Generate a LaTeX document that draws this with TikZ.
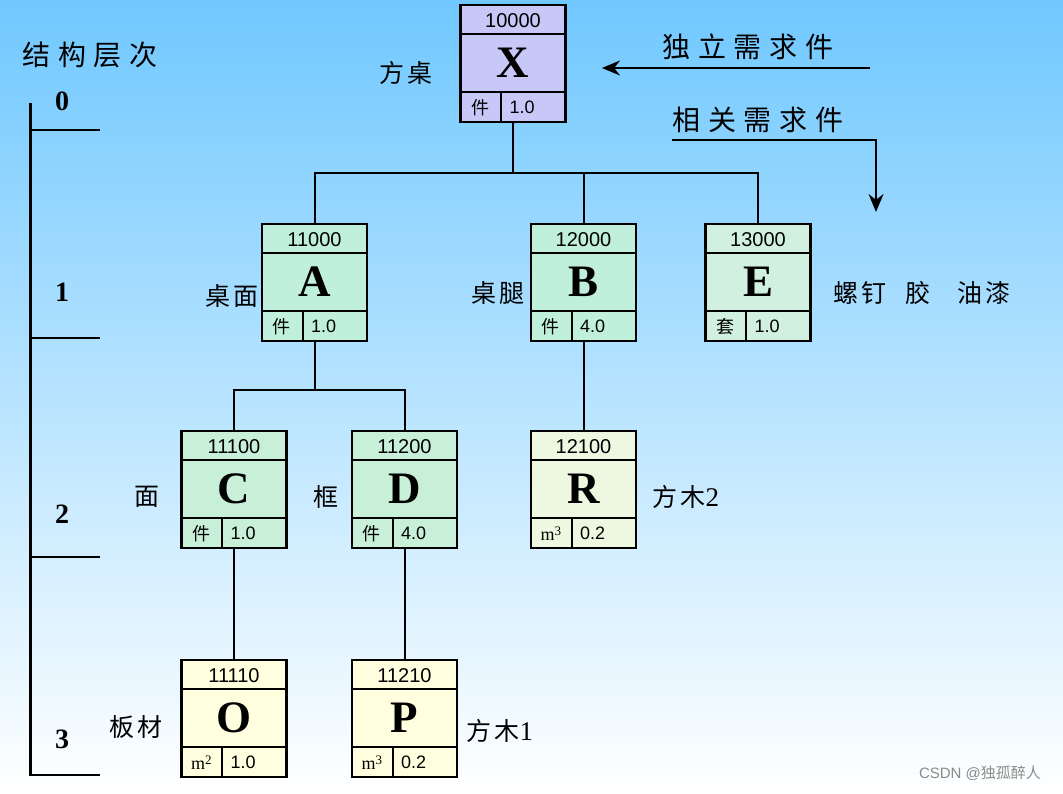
\documentclass[tikz,border=0pt]{standalone}
\usepackage{fontspec}
\setmainfont{Liberation Serif}
\newfontfamily\sansnum{Liberation Sans}
\newfontfamily\cjk{Noto Sans CJK SC}
\newfontfamily\cjkwide{Noto Sans CJK SC}[LetterSpace=28]
\newfontfamily\cjkmid{Noto Sans CJK SC}[LetterSpace=14]
\usetikzlibrary{calc,arrows.meta}
\definecolor{bgtop}{HTML}{70C8FF}
\definecolor{bgmid}{HTML}{C4E6FC}
\definecolor{fx}{HTML}{C8C8F8}
\definecolor{fa}{HTML}{C0F0DC}
\definecolor{fe}{HTML}{D2F0E0}
\definecolor{fc}{HTML}{C8F0D8}
\definecolor{fr}{HTML}{EEF8E0}
\definecolor{fo}{HTML}{FFFFE0}
\definecolor{wm}{HTML}{8A8A8A}
\tikzset{
  pbox/.style={draw, line width=2.4pt, minimum width=105pt, minimum height=117pt, inner sep=0pt},
  rule/.style={line width=2.2pt},
  conn/.style={line width=2pt},
  hdr/.style={font=\sansnum\fontsize{20}{20}\selectfont, inner sep=0pt},
  bigl/.style={font=\bfseries\fontsize{45}{45}\selectfont, inner sep=0pt},
  cell/.style={font=\sansnum\fontsize{18}{18}\selectfont, inner sep=0pt},
  ucell/.style={font=\cjk\fontsize{18}{18}\selectfont, inner sep=0pt},
  lbl/.style={font=\cjkmid\fontsize{25}{25}\selectfont, inner sep=0pt},
  ttl/.style={font=\cjkwide\fontsize{28}{28}\selectfont, inner sep=0pt},
  lvl/.style={font=\bfseries\fontsize{28}{28}\selectfont, inner sep=0pt},
  tip/.style={-{Stealth[length=18pt,width=15pt]}}
}
\newcommand\partbox[8]{%
  \node[pbox, fill=#4] (#1) at (#2,#3) {};
  \draw[rule] ($(#1.north west)+(0,30)$) -- ($(#1.north east)+(0,30)$);
  \draw[rule] ($(#1.south west)+(0,-31)$) -- ($(#1.south east)+(0,-31)$);
  \draw[rule] ($(#1.south west)+(42,-31)$) -- ($(#1.south west)+(42,0)$);
  \node[hdr] at ($(#1.north)+(0,17)$) {#5};
  \node[bigl] at ($(#1.center)+(0,-1)$) {#6};
  \node[ucell] at ($(#1.south west)+(21,-15.5)$) {#7};
  \node[cell, anchor=west] at ($(#1.south west)+(50,-15.5)$) {#8};
}
\newcommand\cubic[1]{{\fontsize{18}{18}\selectfont\rmfamily m\raisebox{5pt}{\fontsize{13}{13}\selectfont #1}}}
\begin{document}
\begin{tikzpicture}[x=1pt,y=-1pt]
\useasboundingbox (0,0) rectangle (1063,793);
\shade[top color=bgtop, middle color=bgmid, bottom color=white] (0,0) rectangle (1063,793);

% level scale
\draw[line width=3pt] (30,103) -- (30,776);
\foreach \yy in {130,338,557,775} \draw[line width=2.4pt] (30,\yy) -- (100,\yy);
\node[lvl] at (62,101) {0};
\node[lvl] at (62,292) {1};
\node[lvl] at (62,514) {2};
\node[lvl] at (62,739) {3};
\node[ttl] at (90,55) {结构层次};

% boxes
\partbox{X}{513}{63.5}{fx}{10000}{X}{件}{1.0}
\partbox{A}{314.5}{282.5}{fa}{11000}{A}{件}{1.0}
\partbox{B}{583.5}{282.5}{fa}{12000}{B}{件}{4.0}
\partbox{E}{758}{282.5}{fe}{13000}{E}{套}{1.0}
\partbox{C}{234}{489.5}{fc}{11100}{C}{件}{1.0}
\partbox{D}{404.5}{489.5}{fc}{11200}{D}{件}{4.0}
\partbox{R}{583.5}{489.5}{fr}{12100}{R}{\cubic{3}}{0.2}
\partbox{O}{234}{718.5}{fo}{11110}{O}{\cubic{2}}{1.0}
\partbox{P}{404.5}{718.5}{fo}{11210}{P}{\cubic{3}}{0.2}

% connectors
\coordinate (j1) at ($(X.south)+(0,50)$);
\draw[conn] (X.south) -- (j1);
\draw[conn] (j1) -| (A.north);
\draw[conn] (j1) -| (B.north);
\draw[conn] (j1) -| (E.north);
\coordinate (j2) at ($(A.south)+(0,48)$);
\draw[conn] (A.south) -- (j2);
\draw[conn] (j2) -| (C.north);
\draw[conn] (j2) -| (D.north);
\draw[conn] (B.south) -- (R.north);
\draw[conn] (C.south) -- (O.north);
\draw[conn] (D.south) -- (P.north);

% labels
\node[lbl] at (406,73) {方桌};
\node[lbl] at (232,296) {桌面};
\node[lbl] at (498,293) {桌腿};
\node[lbl] at (860,293) {螺钉};
\node[lbl] at (918,293) {胶};
\node[lbl] at (984,293) {油漆};
\node[lbl] at (147,497) {面};
\node[lbl] at (326,497) {框};
\node[lbl, anchor=west] at (652,497) {方木{\rmfamily\fontsize{27}{27}\selectfont 2}};
\node[lbl] at (136,727) {板材};
\node[lbl, anchor=west] at (466,731) {方木{\rmfamily\fontsize{27}{27}\selectfont 1}};

% demand arrows
\node[ttl] at (748,47) {独立需求件};
\coordinate (ia) at (870,68);
\coordinate (ib) at (602,68);
\draw[conn, tip] (ia) -- (ib);
\node[ttl] at (758,120) {相关需求件};
\coordinate (da) at (672,140);
\coordinate (db) at (876,212);
\draw[conn, tip] (da) -| (db);

% watermark
\node[font=\sansnum\fontsize{15}{15}\selectfont, text=wm, inner sep=0pt] at (980,773) {CSDN @{\cjk 独孤醉人}};
\end{tikzpicture}
\end{document}
